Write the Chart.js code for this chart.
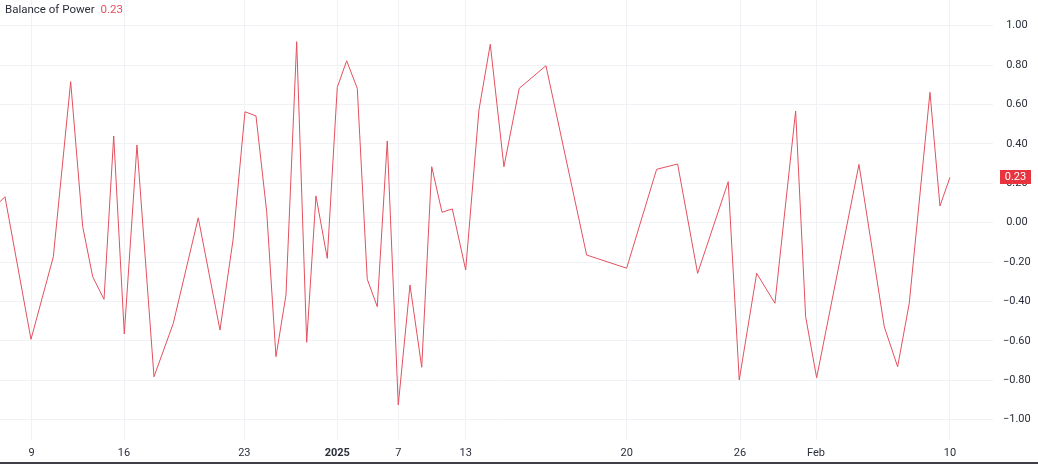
<!DOCTYPE html>
<html>
<head>
<meta charset="utf-8">
<script src="https://cdn.jsdelivr.net/npm/chart.js@4/dist/chart.umd.min.js"></script>
<style>
  html, body { margin: 0; padding: 0; background: #ffffff; overflow: hidden; }
  #wrap { width: 1038px; height: 464px; position: relative; }
</style>
</head>
<body>
<div id="wrap"><canvas id="c" width="1038" height="464"></canvas></div>
<script>
// ---- Data ----
const indicatorName = "Balance of Power";
// bar position along the time axis (bar index, 0 = "9")
const barPos = [-3.62, -2.62, -0.07, 2.12, 3.82, 5.00, 5.98, 7.09, 8.04, 9.08,
  10.32, 11.99, 13.88, 16.33, 18.46, 19.74, 20.91, 21.99, 23.04, 23.95,
  24.93, 25.98, 26.96, 27.87, 28.98, 29.96, 30.88, 31.92, 32.90, 33.88,
  34.86, 35.94, 37.09, 38.24, 39.22, 40.23, 41.24, 42.55, 43.85, 44.96,
  46.30, 47.80, 50.42, 54.41, 58.33, 61.27, 63.33, 65.29, 68.29, 69.37,
  71.08, 72.87, 74.90, 75.88, 76.96, 81.11, 83.59, 84.90, 86.04, 88.07,
  89.05, 90.03];
const bopValues = [0.08, 0.132, -0.592, -0.173, 0.716, -0.020, -0.274, -0.389, 0.440, -0.565,
  0.394, -0.782, -0.511, 0.025, -0.545, -0.088, 0.563, 0.542, 0.056, -0.680,
  -0.367, 0.919, -0.607, 0.136, -0.181, 0.687, 0.822, 0.682, -0.287, -0.426,
  0.415, -0.925, -0.316, -0.734, 0.284, 0.053, 0.070, -0.240, 0.572, 0.906,
  0.284, 0.682, 0.797, -0.164, -0.231, 0.271, 0.298, -0.257, 0.208, -0.798,
  -0.257, -0.409, 0.567, -0.477, -0.787, 0.296, -0.528, -0.731, -0.409, 0.662,
  0.085, 0.230];
// time axis tick labels and their bar positions
const timeTickLabels = ["9", "16", "23", "2025", "7", "13", "20", "26", "Feb", "10"];
const timeTickPos = [0, 9.05, 20.85, 29.96, 35.94, 42.55, 58.33, 69.45, 76.9, 90.03];
// value axis ticks
const valueTicks = [-1.0, -0.8, -0.6, -0.4, -0.2, 0.0, 0.2, 0.4, 0.6, 0.8, 1.0];
const lastValue = bopValues[bopValues.length - 1];

// ---- Styles ----
const FONT = "Roboto, 'Noto Sans', 'DejaVu Sans', sans-serif";
const LINE_RED = "#e4505e";
const BADGE_RED = "#e8343f";
const TEXT = "#2a2e39";
const GRID = "#f1f2f5";

const points = barPos.map((x, i) => ({ x: x, y: bopValues[i] }));
const fmt = v => (v < 0 ? "\u2212" : "") + Math.abs(v).toFixed(2);

const overlay = {
  id: "overlay",
  afterDraw(chart) {
    const ctx = chart.ctx;
    const ys = chart.scales.y;
    // header legend
    ctx.save();
    ctx.font = "11.5px " + FONT;
    ctx.textBaseline = "middle";
    ctx.textAlign = "left";
    ctx.fillStyle = TEXT;
    ctx.fillText(indicatorName, 5, 10);
    const w = ctx.measureText(indicatorName).width;
    ctx.fillStyle = "#e4505d";
    ctx.fillText(lastValue.toFixed(2), 5 + w + 6, 10);
    // last value badge on the value axis
    const py = ys.getPixelForValue(lastValue);
    ctx.fillStyle = BADGE_RED;
    ctx.fillRect(1000, Math.round(py) - 7, 31, 14);
    ctx.fillStyle = "#ffffff";
    ctx.font = "11px " + FONT;
    ctx.textAlign = "center";
    ctx.fillText(lastValue.toFixed(2), 1015.5, Math.round(py));
    // bottom frame edge
    ctx.fillStyle = "#3d3f44";
    ctx.fillRect(0, 462, chart.width, 2);
    ctx.restore();
  }
};

new Chart(document.getElementById("c"), {
  type: "line",
  data: {
    datasets: [{
      label: indicatorName,
      data: points,
      borderColor: LINE_RED,
      borderWidth: 1,
      pointRadius: 0,
      tension: 0,
      fill: false
    }]
  },
  options: {
    responsive: false,
    animation: false,
    devicePixelRatio: 1,
    layout: { padding: 0 },
    plugins: { legend: { display: false }, tooltip: { enabled: false } },
    scales: {
      x: {
        type: "linear",
        position: "bottom",
        min: -3.108,
        max: 94.25,
        afterFit(s) { s.height = 24; s.paddingLeft = 0; s.paddingRight = 0; },
        afterBuildTicks(s) { s.ticks = timeTickPos.map(v => ({ value: v })); },
        grid: { color: GRID, drawTicks: false, lineWidth: 1 },
        border: { display: false },
        ticks: {
          autoSkip: false,
          maxRotation: 0,
          padding: 7,
          color: TEXT,
          font: ctx => ({ family: FONT, size: 11, weight: timeTickLabels[ctx.index] === "2025" ? "bold" : "normal" }),
          callback: (v, i) => timeTickLabels[i]
        }
      },
      y: {
        type: "linear",
        position: "right",
        min: -1.103,
        max: 1.1305,
        afterFit(s) { s.width = 45; s.paddingTop = 0; s.paddingBottom = 0; },
        afterBuildTicks(s) { s.ticks = valueTicks.map(v => ({ value: v })); },
        grid: { color: GRID, drawTicks: false, lineWidth: 1 },
        border: { display: false },
        ticks: {
          padding: 10,
          crossAlign: "center",
          color: TEXT,
          font: { family: FONT, size: 11 },
          callback: v => fmt(v)
        }
      }
    }
  },
  plugins: [overlay]
});
</script>
</body>
</html>
